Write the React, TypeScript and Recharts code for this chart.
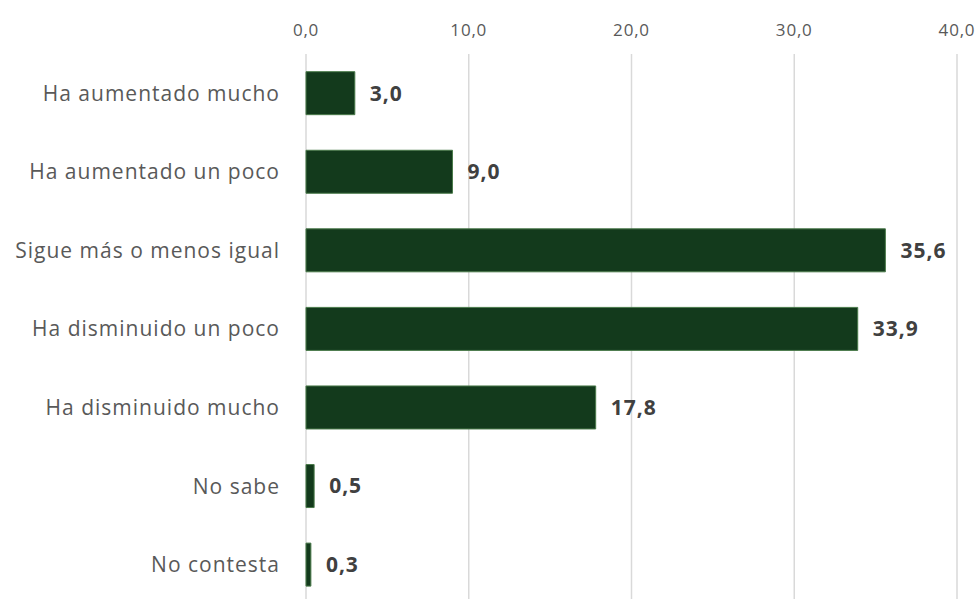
import { BarChart, Bar, XAxis, YAxis, CartesianGrid, LabelList } from 'recharts';

const categories = [
  'Ha aumentado mucho',
  'Ha aumentado un poco',
  'Sigue más o menos igual',
  'Ha disminuido un poco',
  'Ha disminuido mucho',
  'No sabe',
  'No contesta',
];
const values = [3.0, 9.0, 35.6, 33.9, 17.8, 0.5, 0.3];
const xTicks = [0, 10, 20, 30, 40];

const fmt = (v: number) => v.toFixed(1).replace('.', ',');

export default function App() {
  const data = categories.map((c, i) => ({ category: c, value: values[i] }));
  const font = "'Open Sans', 'Noto Sans', sans-serif";

  return (
    <div style={{ position: 'absolute', left: 0, top: 0, background: '#fff' }}>
      <BarChart
        width={979}
        height={610}
        data={data}
        layout="vertical"
        margin={{ top: 0, right: 22, left: 0, bottom: 6 }}
        barCategoryGap="22.5%"
      >
        <CartesianGrid horizontal={false} stroke="#d9d9d9" strokeWidth={1.5} />
        <XAxis
          type="number"
          orientation="top"
          domain={[0, 40]}
          ticks={xTicks}
          tickFormatter={fmt}
          axisLine={false}
          tickLine={false}
          tickSize={0}
          tickMargin={18}
          height={54}
          tick={{ fill: '#595959', fontSize: 17, fontFamily: font, letterSpacing: 0.8 }}
        />
        <YAxis
          type="category"
          dataKey="category"
          width={306}
          axisLine={false}
          tickLine={false}
          tickSize={0}
          tickMargin={26}
          interval={0}
          tick={{ fill: '#595959', fontSize: 21, fontFamily: font, letterSpacing: 1 }}
        />
        <Bar dataKey="value" fill="#133a1c" stroke="#4a7a4a" strokeWidth={1} isAnimationActive={false}>
          <LabelList
            dataKey="value"
            position="right"
            offset={15}
            formatter={(v: any) => fmt(Number(v))}
            style={{ fill: '#404040', fontSize: 21, fontWeight: 700, fontFamily: font, letterSpacing: 1 }}
          />
        </Bar>
      </BarChart>
    </div>
  );
}
